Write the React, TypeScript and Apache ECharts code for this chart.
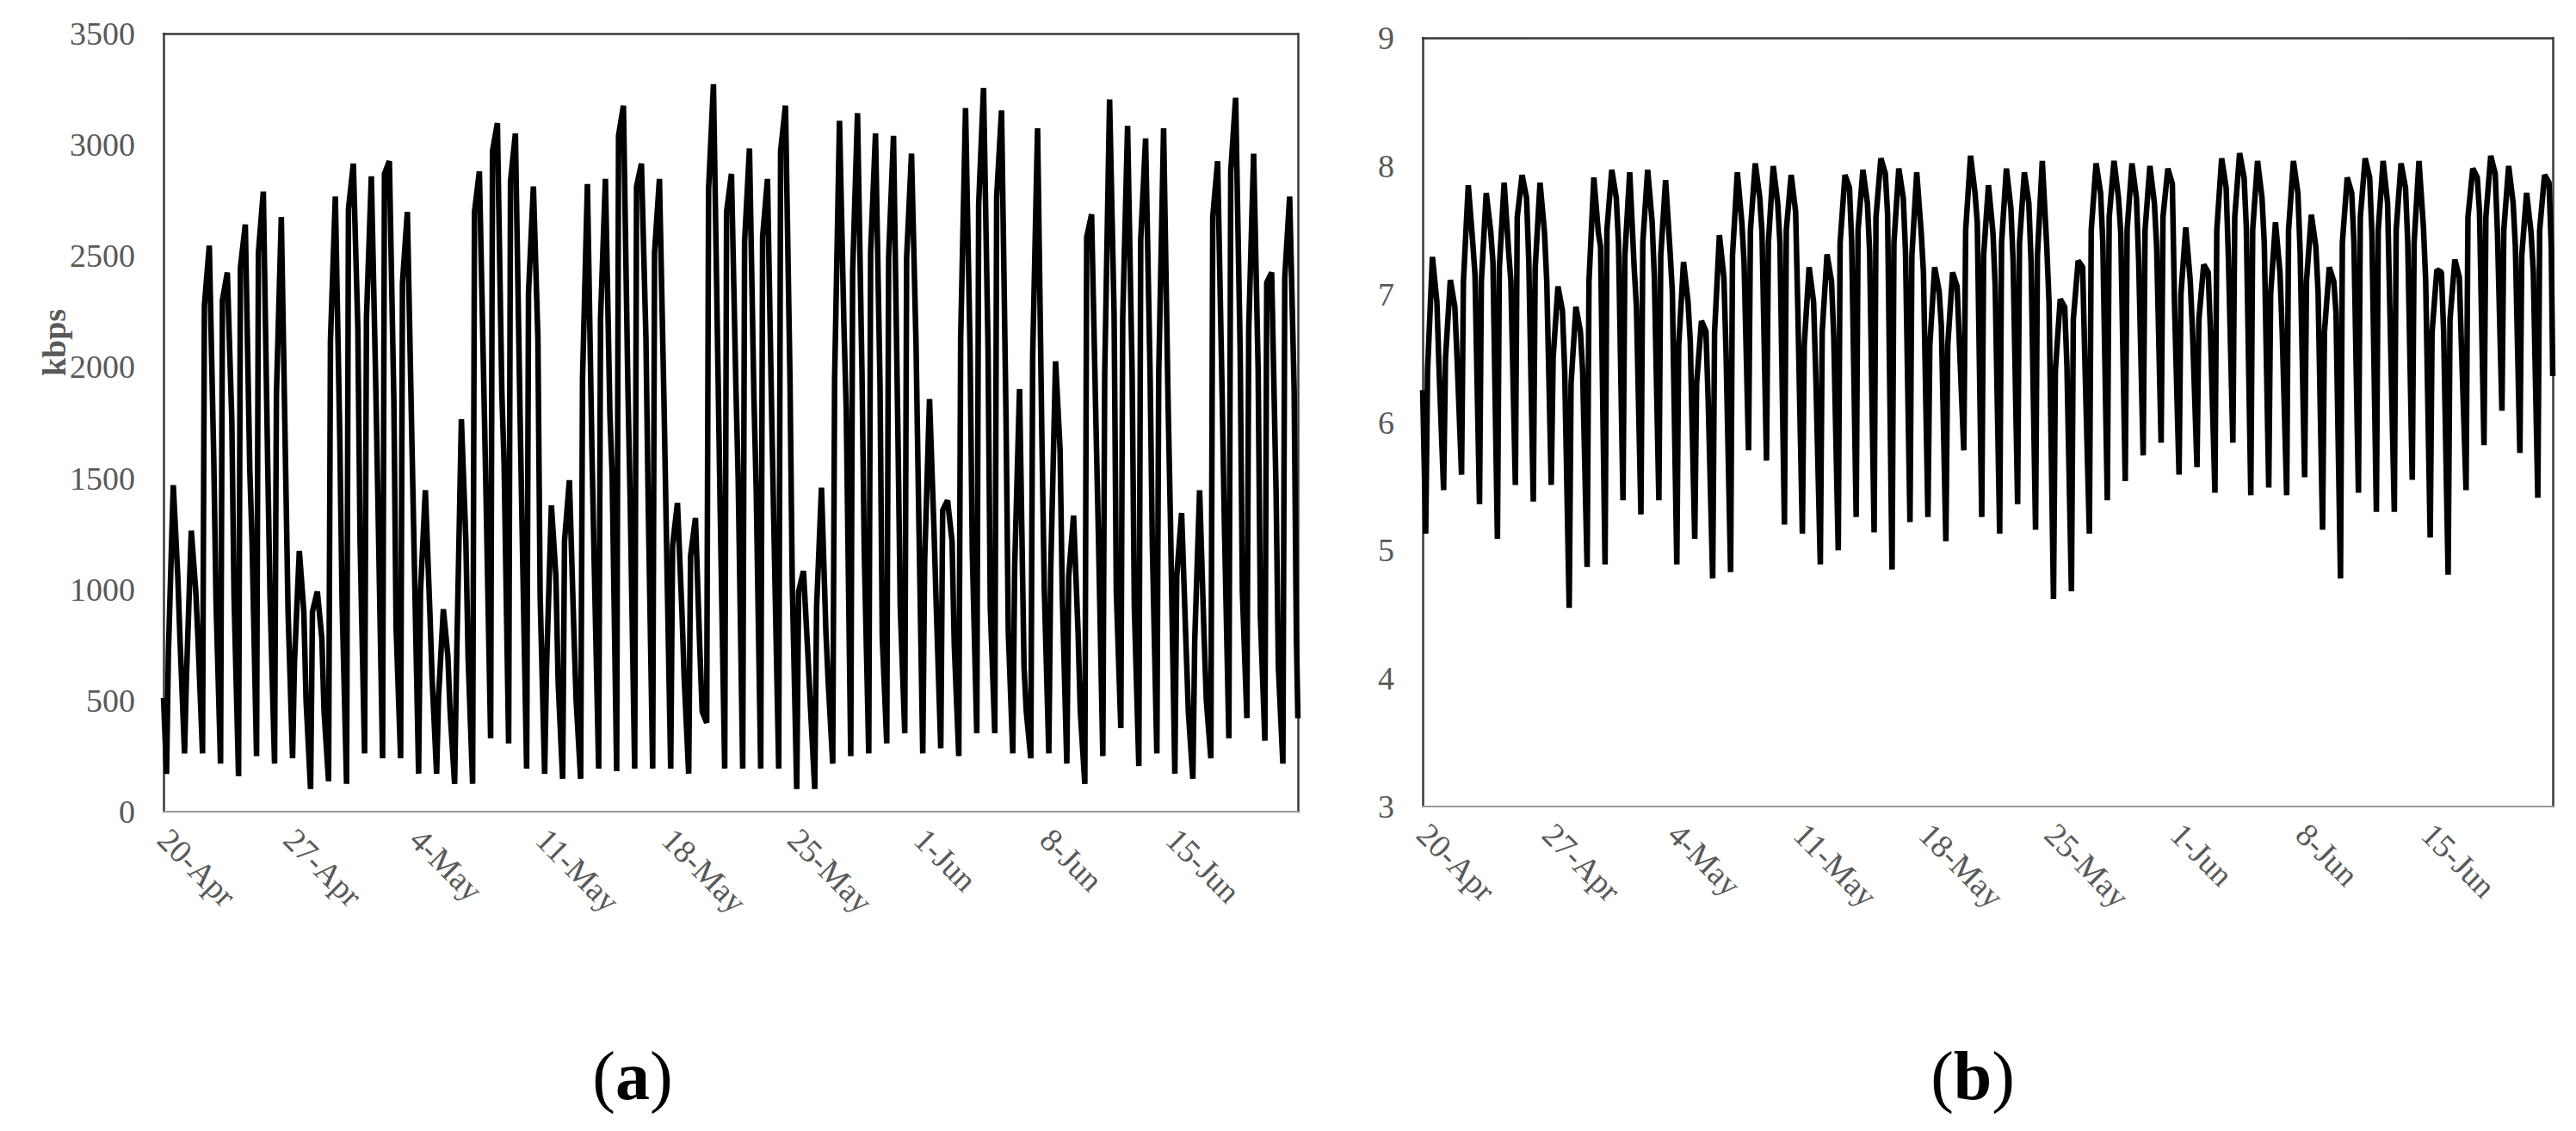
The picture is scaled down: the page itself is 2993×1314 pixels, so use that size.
import React, { useEffect, useRef } from "react";
import * as echarts from "echarts";

// ---------- tick labels ----------
const DATE_LABELS = ["20-Apr", "27-Apr", "4-May", "11-May", "18-May", "25-May", "1-Jun", "8-Jun", "15-Jun"];
const DAY_COUNT = 63; // 20-Apr .. 21-Jun
// hour of day for each daily reading: trough, rise, peak, fall1, fall2
const HOURS = [4, 6.5, 13, 19, 22];

// ---------- (a) kbps ----------
const A_START = 512;
const A_END = 420;
const A_TROUGH = [
  170, 262, 262, 216, 160, 250, 216, 240, 102, 137,
  125, 262, 240, 240, 171, 171, 125, 125, 330, 307,
  194, 171, 148, 148, 194, 182, 194, 194, 194, 171,
  400, 194, 194, 194, 194, 102, 102, 216, 250, 262,
  307, 353, 262, 285, 250, 353, 353, 262, 240, 262,
  216, 125, 250, 376, 205, 262, 171, 148, 240, 330,
  421, 319, 216,
];
const A_RISE = [
  717, 600, 2277, 2300, 2448, 2516, 1879, 672, 899, 2118,
  2710, 2220, 2869, 2380, 990, 512, 649, 2698, 2971, 2835,
  2334, 649, 1218, 1947, 2220, 3040, 2812, 2516, 1195, 1150,
  2800, 2698, 2562, 2584, 2971, 990, 922, 1947, 2425, 2516,
  2493, 2493, 1127, 1355, 2129, 2732, 2767, 1104, 2049, 1082,
  1059, 2584, 1970, 2220, 2573, 1970, 1059, 770, 2675, 2880,
  2175, 2380, 2402,
];
const A_PEAK = [
  1469, 1264, 2546, 2425, 2641, 2789, 2675, 1173, 990, 2767,
  2915, 2858, 2926, 2698, 1446, 911, 1765, 2880, 3097, 3051,
  2812, 1378, 1491, 2823, 2846, 3176, 2915, 2846, 1389, 1321,
  3272, 2869, 2983, 2846, 3176, 1082, 1457, 3108, 3142, 3051,
  3040, 2960, 1856, 1400, 3165, 3256, 3154, 1901, 3074, 2026,
  1332, 2687, 3204, 3085, 3028, 3074, 1343, 1446, 2926, 3211,
  2960, 2425, 2767,
];
const A_FALL1 = [
  1059, 990, 1582, 1765, 1537, 1537, 1491, 900, 780, 1674,
  2175, 1901, 1856, 1674, 899, 700, 1218, 1901, 1879, 1833,
  2129, 1059, 808, 1628, 1787, 1901, 2129, 1856, 899, 717,
  1992, 1901, 1856, 1719, 1947, 700, 800, 2175, 1970, 1924,
  1674, 2106, 1264, 1218, 2084, 2084, 1765, 649, 1628, 1628,
  808, 1719, 2243, 1980, 1970, 1833, 740, 786, 1879, 2084,
  1992, 1423, 1900,
];
const A_FALL2 = [
  774, 774, 945, 968, 1218, 968, 900, 500, 450, 945,
  1218, 1355, 831, 1173, 600, 450, 694, 1400, 1560, 1264,
  968, 580, 500, 1127, 1514, 1400, 1400, 1295, 600, 450,
  1355, 1491, 1446, 1200, 1036, 490, 580, 1810, 1173, 785,
  922, 1469, 922, 750, 1173, 922, 808, 450, 1000, 968,
  450, 1264, 990, 922, 1200, 1332, 450, 500, 1300, 990,
  877, 649, 786,
];

// ---------- (b) ----------
const B_START = 6.25;
const B_END = 6.36;
const B_TROUGH = [
  5.13, 5.47, 5.59, 5.36, 5.09, 5.51, 5.38, 5.51, 4.55, 4.87,
  4.89, 5.39, 5.28, 5.39, 4.89, 5.09, 4.78, 4.83, 5.78, 5.7,
  5.2, 5.13, 4.89, 5.0, 5.26, 5.14, 4.85, 5.22, 5.26, 5.07,
  5.78, 5.26, 5.13, 5.36, 5.16, 4.62, 4.68, 5.13, 5.39, 5.54,
  5.74, 5.84, 5.59, 5.65, 5.45, 5.84, 5.43, 5.49, 5.43, 5.57,
  5.16, 4.78, 5.45, 5.3, 5.3, 5.55, 5.1, 4.81, 5.47, 5.82,
  6.09, 5.76, 5.41,
];
const B_RISE = [
  6.4, 6.5, 7.1, 7.1, 7.2, 7.6, 7.2, 6.5, 6.3, 7.1,
  7.5, 7.3, 7.4, 7.3, 6.6, 6.3, 6.7, 7.3, 7.5, 7.4,
  7.5, 6.6, 6.7, 7.4, 7.5, 7.6, 7.4, 7.3, 6.6, 6.6,
  7.5, 7.3, 7.4, 7.4, 7.3, 6.4, 6.8, 7.5, 7.6, 7.5,
  7.5, 7.6, 7.0, 6.8, 7.5, 7.6, 7.5, 7.0, 7.5, 7.1,
  6.7, 7.4, 7.6, 7.5, 7.5, 7.4, 6.7, 6.8, 7.6, 7.6,
  7.5, 7.3, 7.5,
];
const B_PEAK = [
  7.29, 7.11, 7.85, 7.79, 7.87, 7.93, 7.87, 7.06, 6.9, 7.91,
  7.97, 7.95, 7.97, 7.89, 7.25, 6.79, 7.46, 7.95, 8.02, 8.0,
  7.93, 7.21, 7.31, 7.93, 7.97, 8.06, 7.98, 7.95, 7.21, 7.17,
  8.08, 7.85, 7.98, 7.95, 8.04, 6.96, 7.26, 8.02, 8.04, 8.02,
  8.0, 7.98, 7.52, 7.23, 8.06, 8.1, 8.04, 7.56, 8.04, 7.62,
  7.21, 7.91, 8.06, 8.04, 8.02, 8.04, 7.19, 7.27, 7.98, 8.08,
  8.0, 7.79, 7.93,
];
const B_FALL1 = [
  6.94, 6.9, 7.4, 7.49, 7.33, 7.75, 7.48, 6.87, 6.71, 7.48,
  7.75, 7.2, 7.56, 7.33, 6.94, 6.71, 7.13, 7.56, 7.75, 7.71,
  7.64, 6.94, 7.1, 7.83, 7.71, 7.94, 7.75, 7.48, 7.02, 7.06,
  7.79, 7.48, 7.67, 7.71, 7.37, 6.9, 7.21, 7.79, 7.75, 7.75,
  7.71, 7.86, 7.1, 7.17, 7.83, 7.91, 7.75, 7.17, 7.79, 7.37,
  7.1, 7.79, 7.91, 7.71, 7.83, 7.52, 7.17, 7.13, 7.91, 7.94,
  7.71, 7.48, 7.87,
];
const B_FALL2 = [
  6.4, 6.5, 7.15, 7.25, 7.1, 7.25, 7.1, 6.4, 6.4, 7.37,
  7.4, 6.9, 7.13, 7.02, 6.63, 6.17, 6.52, 7.25, 7.48, 7.4,
  6.86, 6.36, 6.67, 7.4, 7.33, 7.63, 7.33, 7.17, 6.75, 6.63,
  7.56, 7.06, 7.25, 7.25, 6.94, 6.44, 6.48, 7.4, 7.48, 7.25,
  7.37, 6.9, 6.71, 6.71, 7.29, 7.52, 7.4, 6.71, 7.33, 7.02,
  6.86, 7.4, 7.48, 6.9, 7.4, 7.1, 6.71, 6.56, 7.64, 7.48,
  7.37, 7.17, 7.37,
];

const Y_A = { min: 0, max: 3500, interval: 500 };
const Y_B = { min: 3, max: 9, interval: 1 };

function buildSeries(
  start: number,
  trough: number[],
  rise: number[],
  peak: number[],
  fall1: number[],
  fall2: number[],
  end: number
): number[][] {
  const pts: number[][] = [[0, start]];
  for (let d = 0; d < trough.length; d++) {
    const vals = [trough[d], rise[d], peak[d], fall1[d], fall2[d]];
    HOURS.forEach((h, i) => pts.push([d + h / 24, vals[i]]));
  }
  pts.push([trough.length, end]);
  return pts;
}

const FONT = '"Liberation Serif", "Times New Roman", serif';
const GRAY = "#595959";
const FRAME = "#3a3a3a";

export default function App() {
  const ref = useRef<HTMLDivElement>(null);

  useEffect(() => {
    if (!ref.current) return;
    const chart = echarts.init(ref.current, undefined, { renderer: "svg" });

    const dataA = buildSeries(A_START, A_TROUGH, A_RISE, A_PEAK, A_FALL1, A_FALL2, A_END);
    const dataB = buildSeries(B_START, B_TROUGH, B_RISE, B_PEAK, B_FALL1, B_FALL2, B_END);

    const dateFormatter = (v: number) => {
      const idx = Math.round(v / 7);
      return DATE_LABELS[idx] ?? "";
    };

    const bottomX = (gridIndex: number) => ({
      gridIndex,
      type: "value",
      position: "bottom",
      min: 0,
      max: DAY_COUNT,
      interval: 7,
      axisLine: { show: true, onZero: false, lineStyle: { color: "#9a9a9a", width: 2 } },
      axisTick: { show: false },
      splitLine: { show: false },
      axisLabel: {
        rotate: -45,
        margin: 26,
        color: GRAY,
        fontFamily: FONT,
        fontSize: 38,
        hideOverlap: false,
        showMinLabel: true,
        showMaxLabel: true,
        formatter: dateFormatter,
      },
    });
    const topX = (gridIndex: number) => ({
      gridIndex,
      type: "value",
      position: "top",
      min: 0,
      max: 1,
      axisLine: { show: true, onZero: false, lineStyle: { color: FRAME, width: 2.5 } },
      axisTick: { show: false },
      axisLabel: { show: false },
      splitLine: { show: false },
    });
    const leftY = (gridIndex: number, r: { min: number; max: number; interval: number }) => ({
      gridIndex,
      type: "value",
      position: "left",
      min: r.min,
      max: r.max,
      interval: r.interval,
      axisLine: { show: true, onZero: false, lineStyle: { color: FRAME, width: 2.5 } },
      axisTick: { show: false },
      splitLine: { show: false },
      axisLabel: {
        margin: 33,
        color: GRAY,
        fontFamily: FONT,
        fontSize: 38,
        formatter: (v: number) => String(v),
      },
    });
    const rightY = (gridIndex: number) => ({
      gridIndex,
      type: "value",
      position: "right",
      min: 0,
      max: 1,
      axisLine: { show: true, onZero: false, lineStyle: { color: FRAME, width: 2.5 } },
      axisTick: { show: false },
      axisLabel: { show: false },
      splitLine: { show: false },
    });

    const lineSeries = (xAxisIndex: number, yAxisIndex: number, data: number[][]) => ({
      type: "line",
      xAxisIndex,
      yAxisIndex,
      data,
      showSymbol: false,
      symbol: "none",
      lineStyle: { color: "#000000", width: 6.5, join: "bevel" },
      silent: true,
      z: 1,
    });

    chart.setOption({
      animation: false,
      backgroundColor: "#ffffff",
      grid: [
        { left: 190, top: 39, width: 1318, height: 904 },
        { left: 1653, top: 44, width: 1313, height: 893 },
      ],
      xAxis: [bottomX(0), topX(0), bottomX(1), topX(1)],
      yAxis: [leftY(0, Y_A), rightY(0), leftY(1, Y_B), rightY(1)],
      series: [lineSeries(0, 0, dataA), lineSeries(2, 2, dataB)],
      graphic: [
        {
          type: "text",
          x: 63,
          y: 398,
          rotation: Math.PI / 2,
          style: {
            text: "kbps",
            font: `bold 38px ${FONT}`,
            fill: GRAY,
            align: "center",
            verticalAlign: "middle",
          },
        },
        {
          type: "text",
          x: 735,
          y: 1250,
          style: {
            text: "{p|(}{b|a}{p|)}",
            align: "center",
            verticalAlign: "middle",
            rich: {
              p: { font: `80px ${FONT}`, fill: "#000" },
              b: { font: `bold 80px ${FONT}`, fill: "#000" },
            },
          },
        },
        {
          type: "text",
          x: 2292,
          y: 1250,
          style: {
            text: "{p|(}{b|b}{p|)}",
            align: "center",
            verticalAlign: "middle",
            rich: {
              p: { font: `80px ${FONT}`, fill: "#000" },
              b: { font: `bold 80px ${FONT}`, fill: "#000" },
            },
          },
        },
      ],
    });

    return () => {
      chart.dispose();
    };
  }, []);

  return (
    <div
      ref={ref}
      style={{ position: "absolute", left: 0, top: 0, width: 2993, height: 1314, background: "#fff" }}
    />
  );
}
